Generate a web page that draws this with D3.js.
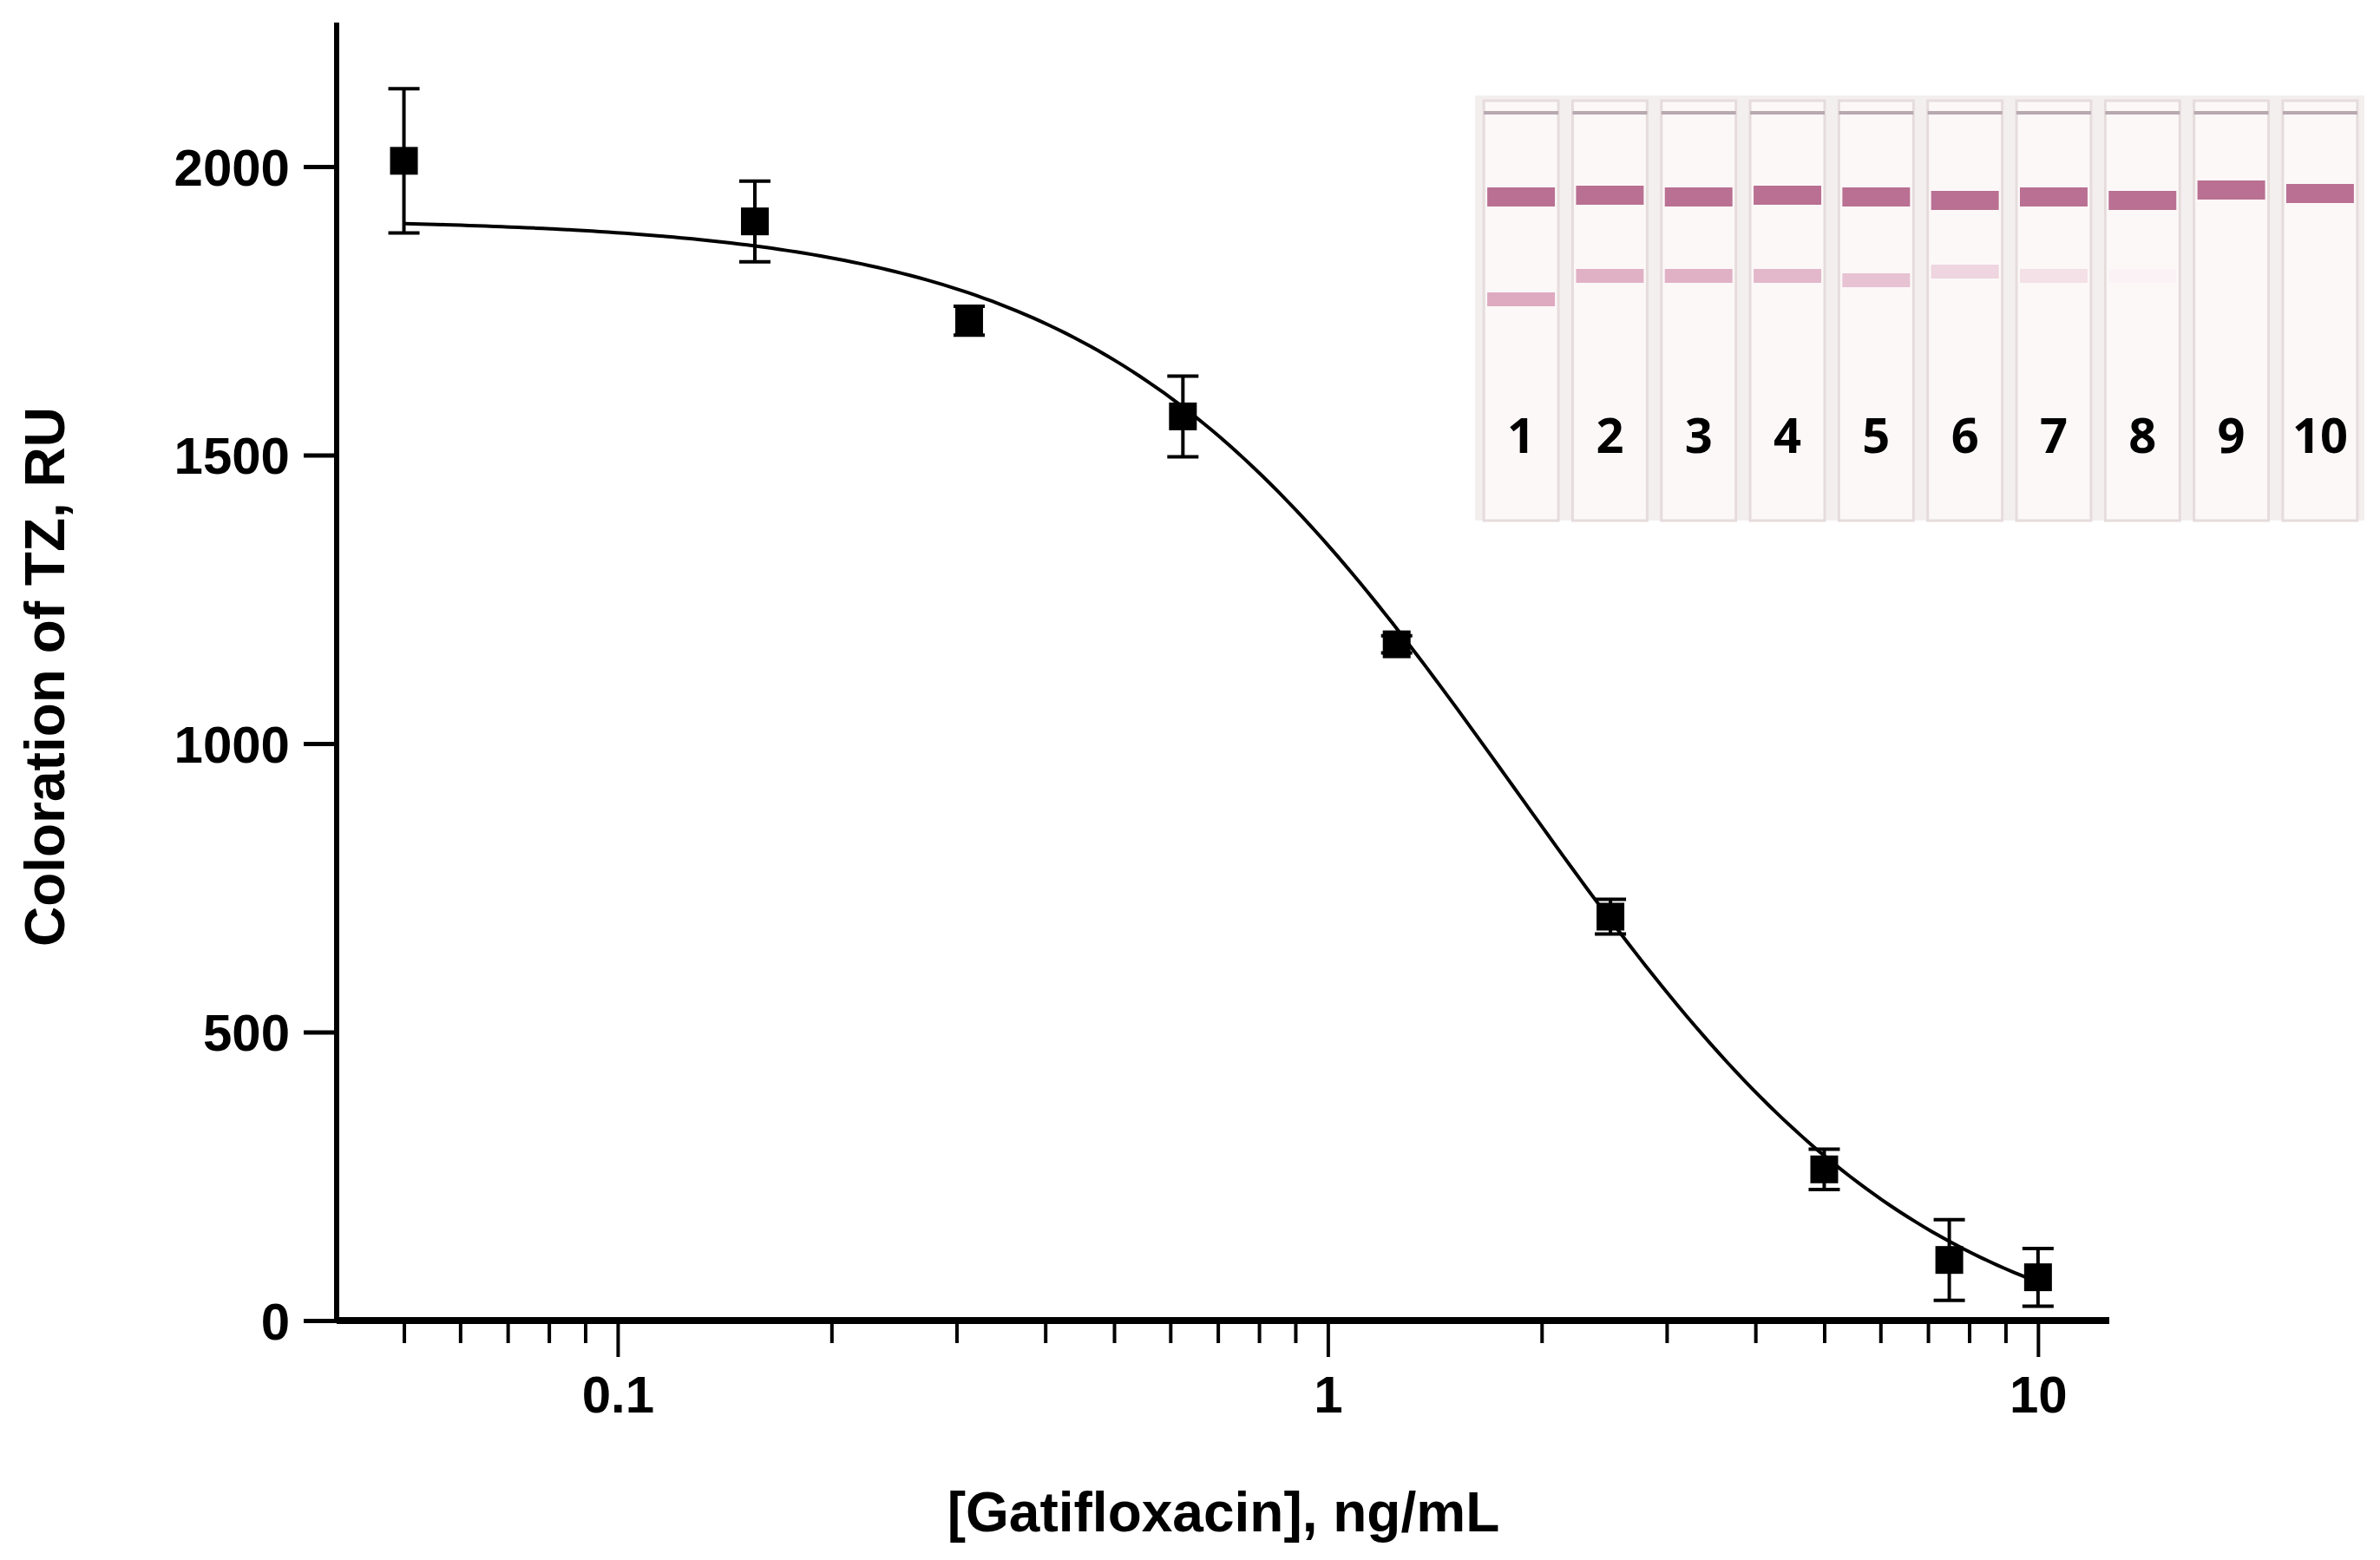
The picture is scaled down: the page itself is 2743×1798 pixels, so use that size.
<!DOCTYPE html>
<html><head><meta charset="utf-8">
<script src="https://cdn.jsdelivr.net/npm/d3@7"></script>
<style>body{margin:0;background:#fff}text{font-family:"Liberation Sans",Arial,sans-serif;font-weight:bold}</style>
</head><body>
<svg id="chart" width="2743" height="1798"></svg>
<script>
// measured points
const conc = [0.05, 0.156, 0.3125, 0.625, 1.25, 2.5, 5, 7.5, 10];
const signal = [2010, 1905, 1733, 1567, 1172, 700, 262, 105, 75];
const errs = [125, 70, 25, 70, 15, 30, 35, 70, 50];
const yTicks = [0, 500, 1000, 1500, 2000];
const xTickLabels = [0.1, 1, 10];
// 4PL fit parameters of the drawn curve
const fitTop = 1910, fitBottom = -80, fitC50 = 1.85, fitSlope = 1.5;
// strip inset
const stripLabels = ["1","2","3","4","5","6","7","8","9","10"];
const controlOffset = [0, -2, 0, -2, 0, 4, 0, 4, -8, -4];
const testY = [345, 318, 318, 318, 323, 313, 318, 318, 318, 318];
const testIntensity = [0.55, 0.5, 0.5, 0.45, 0.38, 0.25, 0.16, 0.04, 0, 0];

const svg = d3.select("#chart");
const x = d3.scaleLog().domain([0.0402, 12.6]).range([388, 2431]);
const y = d3.scaleLinear().domain([0, 2000]).range([1522, 192]);

// inset image of test strips
const inset = svg.append("g");
inset.append("rect").attr("x", 1700).attr("y", 110).attr("width", 1025).attr("height", 490).attr("fill", "#f4efef");
const sx = d3.scaleBand().domain(stripLabels).range([1705, 2722]).paddingInner(0.16).paddingOuter(0.05);
stripLabels.forEach((s, i) => {
  const g = inset.append("g");
  g.append("rect").attr("x", sx(s)).attr("y", 116).attr("width", sx.bandwidth()).attr("height", 484).attr("fill", "#fcf8f8").attr("stroke", "#e6dcdc").attr("stroke-width", 3);
  g.append("rect").attr("x", sx(s)).attr("y", 128).attr("width", sx.bandwidth()).attr("height", 4).attr("fill", "#b8a8b0");
  g.append("rect").attr("x", sx(s) + 4).attr("y", 216 + controlOffset[i]).attr("width", sx.bandwidth() - 8).attr("height", 22).attr("fill", "#a84e78").attr("opacity", 0.8);
  if (testIntensity[i] > 0)
    g.append("rect").attr("x", sx(s) + 4).attr("y", testY[i] - 8).attr("width", sx.bandwidth() - 8).attr("height", 16).attr("fill", "#c46a92").attr("opacity", testIntensity[i]);
  g.append("text").attr("x", sx(s) + sx.bandwidth() / 2).attr("y", 522).attr("text-anchor", "middle")
    .attr("font-size", 56).style("font-family", "'Open Sans','DejaVu Sans',sans-serif").text(s);
});

// axes
const xAxis = d3.axisBottom(x).tickValues(d3.range(-2, 2).flatMap(e => d3.range(1, 10).map(k => k * Math.pow(10, e))).filter(v => v >= 0.0402 && v <= 12.6))
  .tickSize(22).tickFormat(d => xTickLabels.includes(+d.toPrecision(3)) ? d3.format("~g")(d) : "");
const gx = svg.append("g").attr("transform", "translate(0,1522)").call(xAxis);
gx.select(".domain").attr("stroke-width", 8).attr("d", "M388,0H2431");
gx.selectAll(".tick line").attr("stroke-width", 4).attr("y2", d => xTickLabels.includes(+d.toPrecision(3)) ? 42 : 26);
gx.selectAll(".tick text").attr("font-size", 60).attr("y", 52).attr("dy", "0.9em").attr("fill", "#000");

const yAxis = d3.axisLeft(y).tickValues(yTicks).tickSize(38).tickFormat(d3.format("d"));
const gy = svg.append("g").attr("transform", "translate(388,0)").call(yAxis);
gy.select(".domain").attr("stroke-width", 6).attr("d", "M0,26V1522");
gy.selectAll(".tick line").attr("stroke-width", 5);
gy.selectAll(".tick text").attr("font-size", 60).attr("x", -54).attr("dy", "0.35em").attr("fill", "#000");

svg.append("text").attr("x", 1410).attr("y", 1765).attr("text-anchor", "middle").attr("font-size", 64).text("[Gatifloxacin], ng/mL");
svg.append("text").attr("transform", "translate(74,780) rotate(-90)").attr("text-anchor", "middle").attr("font-size", 64).text("Coloration of TZ, RU");

// fitted curve
const fit = c => fitBottom + (fitTop - fitBottom) / (1 + Math.pow(c / fitC50, fitSlope));
const cs = d3.range(0, 201).map(i => Math.pow(10, Math.log10(0.05) + i / 200 * (Math.log10(10) - Math.log10(0.05))));
svg.append("path").attr("d", d3.line().x(c => x(c)).y(c => y(fit(c))).curve(d3.curveBasis)(cs))
  .attr("fill", "none").attr("stroke", "#000").attr("stroke-width", 4);

// error bars and markers
const pts = svg.append("g");
conc.forEach((c, i) => {
  const cx = x(c);
  pts.append("line").attr("x1", cx).attr("x2", cx).attr("y1", y(signal[i] - errs[i])).attr("y2", y(signal[i] + errs[i])).attr("stroke", "#000").attr("stroke-width", 4);
  [signal[i] - errs[i], signal[i] + errs[i]].forEach(v =>
    pts.append("line").attr("x1", cx - 18).attr("x2", cx + 18).attr("y1", y(v)).attr("y2", y(v)).attr("stroke", "#000").attr("stroke-width", 4));
  pts.append("rect").attr("x", cx - 16).attr("y", y(signal[i]) - 16).attr("width", 32).attr("height", 32).attr("fill", "#000");
});
</script>
</body></html>
